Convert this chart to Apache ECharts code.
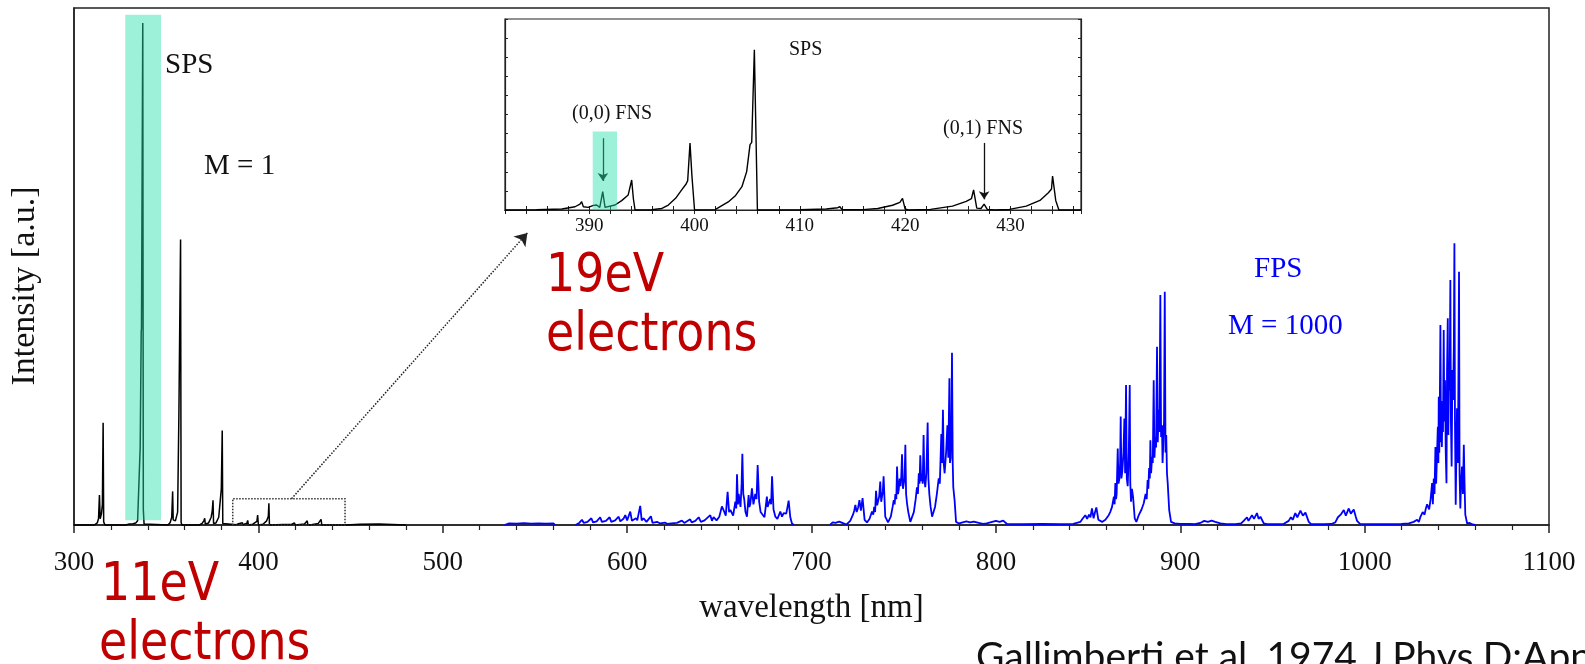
<!DOCTYPE html>
<html>
<head>
<meta charset="utf-8">
<title>SPS / FPS spectrum</title>
<script src="https://cdn.jsdelivr.net/npm/echarts@6.0.0/dist/echarts.min.js"></script>
<style>
  html, body { margin: 0; padding: 0; background: #fff; }
  #chart { width: 1585px; height: 664px; }
</style>
</head>
<body>
<div id="chart"></div>
<script>
// espectro principal, M = 1 (negro)  [nm, intensidad]
var spsMain = [
  [300,0],[311,0],[312.6,0.4],[313.3,1.2],[313.8,5.8],[314.2,1.2],[314.9,2.2],[315.4,4],[315.8,19.8],[316.1,0.6],[316.8,0],
  [328,0],[330,0.2],[332,0.25],[333.5,0.4],[334.5,0.8],[335.9,15],[336.45,37.3],[336.6,38],[337.3,97.1],[337.6,3],[338,0.2],[339,0],
  [351,0],[352.2,0.5],[353,1.5],[353.5,6.5],[353.8,1],[355,0.8],[356.2,2.5],[356.9,21.6],[357.8,55.2],[358.1,0.5],[358.5,0],
  [368,0],[369.5,0.3],[370.4,0.8],[370.9,1.3],[371.2,0.2],[373,0.4],[374.4,1.5],[375,2.8],[375.4,4.8],[375.7,0.3],[377,0.4],[378.5,1.5],[379.9,7],[380.4,18.3],[380.7,0.3],[381.5,0],
  [388,0.05],[389.3,0.25],[389.6,0.05],[391.3,0.45],[391.6,0.05],[393.8,0.35],[394.2,0.9],[394.6,0],[397,0.15],[399.2,0.7],[399.6,1.9],[400,0],[402.5,0.15],[404.5,0.8],[405.4,1.7],[405.7,4.2],[406,0],
  [413.5,0.1],[414,0],[418,0.1],[419.5,0.4],[419.8,0.7],[420.1,0],[425,0.2],[426.5,0.8],[426.8,0.1],[427.5,0.2],[427.9,0],[432.5,0.3],[434,1.1],[434.4,0],
  [446,0],[447,0.25],[447.6,0],[455,0.15],[455.6,0],[465.5,0.2],[466.2,0],[480,0]
];

// espectro FPS, M = 1000 (azul)
var fpsMain = [
  [533.5,0],[536,0.3],[540,0.25],[544,0.35],[548,0.25],[552,0.3],[556,0.25],[560,0.3],[561,0], null,
  [572,0],[574,0.4],[575.5,1],[576.5,0.4],[578.5,0.6],[580.6,1.3],[581.5,0.5],[583.5,0.7],[585.4,1.5],[586.3,0.6],[588.5,0.8],[590.5,1.5],[591.4,0.6],
  [593.5,0.9],[595.4,1.6],[596.3,0.7],[598,1.2],[599,1.9],[600,0.9],[601.7,2.6],[602.6,0.8],[604.8,1.3],[605.5,0.9],[607.1,3.7],[607.9,0.9],[608.9,1.3],
  [610.5,0.6],[612.9,1.7],[613.8,0.4],[616.2,0.6],[618,0.3],[620.7,0.45],[622,0.2],[624,0.3],[627,0.4],[629.7,0.84],[631,0.4],[634.2,1.1],[635,0.5],
  [637,0.8],[638.8,1.5],[640,0.6],[642,0.9],[645.1,1.9],[646,0.8],[646.9,1.5],[648.5,0.9],[650,1.6],[651.4,3.6],[652.3,2.9],[653.5,1.8],[654.5,6.4],
  [655.3,2.5],[656,2.9],[657.5,1.8],[658.7,4.5],[659.2,3.2],[659.6,9.8],[660.1,4],[660.5,6],[661.5,3.5],[662.1,8],[662.5,13.8],[663,6],[663.5,5],[664.2,2.5],
  [665,1.6],[665.9,5.8],[666.3,3.5],[666.8,4],[667.7,7.1],[668.5,4],[669.5,6],[670.2,5],[670.8,11.6],[671.6,4.5],[672.4,2.5],[673.1,2.6],[674.5,1.5],
  [675.8,5.5],[676.2,3.5],[676.7,4],[677.6,5],[678.1,4],[678.6,9.4],[679.4,3],[680.4,1.6],[681.5,1.2],[683.1,2.6],[684,1.6],[684.9,2.3],[686.3,2.2],
  [687,3.5],[687.6,4.7],[688.5,1.5],[689.4,0.3],[690.5,0], null,
  [710,0],[711.5,0.5],[713,0.4],[715,0.65],[717.4,0.3],[719,0.1],[721,0.8],[722.5,2],[723.2,2.8],[723.8,3.9],[724.5,2.5],[725.3,3.4],[726,4.8],[726.8,2.8],
  [727.7,5.2],[728.8,1],[730.1,0.5],[731.5,1.2],[732.8,2.6],[733.5,2],[734,3.5],[734.5,2.5],[735,6.6],[735.6,3.8],[736,3.5],[736.7,5.5],[737.3,8.4],
  [737.8,4.5],[738.2,4.8],[738.7,6.5],[739.1,9.4],[740,1.6],[741.5,0.5],[743,1.6],[744,3.5],[744.6,4.8],[745.1,4],[745.5,6],[746,5],[746.4,11.3],
  [746.9,6],[747.3,6.8],[747.8,9],[748.3,7.5],[748.7,9.5],[749.1,13.7],[749.6,7],[750,6.8],[750.5,9],[750.9,15.5],[751.3,6],[751.8,4.2],[752.5,2.5],
  [753.6,0.6],[755.5,2.5],[756.5,5],[757.2,7.3],[757.7,6],[758.2,10],[758.6,8],[759,13.5],[759.5,8.5],[759.9,9.9],[760.3,8],[760.8,17.4],[761.2,9],
  [761.7,7.3],[762.3,10],[763,19.8],[763.4,9],[763.9,6],[764.6,3.5],[765.4,1.6],[767,3.5],[768,6],[769,9],[769.6,8],[770.4,17.6],[770.8,12],
  [771.3,22.3],[771.7,12],[772.2,10],[773,14],[773.7,19.3],[774.2,13],[774.8,28.4],[775.1,12],[775.5,13],[775.9,20],[776.2,33.3],[776.6,12],
  [776.9,7.3],[777.6,4.8],[778.4,0.6],[780,0.3],[782,0.5],[784,0.7],[786,0.5],[788,0.65],[790.7,0.4],[793,0.2],[795,0.3],
  [798,0.6],[800,0.8],[802,0.6],[804,0.84],[806,0.2],[815,0.15],[825,0.2],[835,0.15],[842,0.2],
  [845.8,0.6],[847,1.2],[848.5,1.9],[849.5,1.2],[850.5,2],[851.3,1.5],[852.1,3.2],[853,1.3],[853.8,2.5],[854.5,3.4],[855.6,1],[857.6,0.6],[859.4,1],
  [861.2,1.9],[862,2.5],[863,3.5],[864,5.5],[864.4,4],[864.8,8.1],[865.2,5],[865.5,6],[866.1,14.8],[866.5,8],[867,9],[867.4,12],[867.7,21],
  [868.1,9],[868.6,10.5],[869.2,14],[869.7,20.6],[870.1,10],[870.6,27.1],[871,9],[871.5,7.5],[872.1,14],[872.6,27.1],[872.9,8],[873.3,4.5],[873.8,7],
  [874.4,5.5],[875.3,1.3],[876.2,0.6],[877.5,1.9],[879,3],[880.2,4.2],[881.2,6],[881.8,5],[882.3,8.7],[882.7,7],[883.1,11],[883.5,9],[883.8,16.4],
  [884.2,10],[884.7,13.2],[885.1,12],[885.6,28],[886,13],[886.5,17],[886.9,15],[887.4,34.5],[887.8,16],[888.3,22.3],[888.7,18],[889.2,44.5],[889.6,17],
  [890.1,19.3],[890.4,12],[890.7,14.8],[891.2,20],[891.6,45.1],[892,14],[892.4,17.4],[892.8,10],[893.2,8.1],[894,2.9],[895,0.6],[897,0.3],[900,0.2],
  [905,0.2],[908,0.15],[910.9,0.4],[913,0.8],[915,0.6],[917,0.84],[919,0.6],[921.8,0.3],[925,0.15],[930,0.15],
  [933,0.3],[934.4,0.8],[936.2,1.5],[937,0.8],[938.9,1.9],[940,1.2],[941.6,2.3],[942.5,1.2],[943.5,1.6],[945.3,0.3],[947,0.15],[953,0.15],
  [956,0.2],[958.8,0.8],[960,1.5],[961,1],[962.4,2.3],[963.5,1.5],[965.2,2.8],[966.5,1.8],[967.9,2.4],[969.7,0.6],[971,0.15],[978,0.15],
  [982,0.2],[984.1,0.5],[985.5,1.5],[987,2],[988.7,2.9],[989.8,1.8],[991.4,3.2],[992.5,2.2],[994.1,3],[995.2,1.6],[995.9,0.8],[997.5,0.2],[1005,0.15],
  [1015,0.15],[1020,0.2],[1024,0.3],[1026.6,0.6],[1028.5,1],[1029.4,0.6],[1030.2,1.5],[1031.5,2.5],[1032.5,2],[1033.2,3.2],[1033.9,4],[1035,3],[1035.8,5],
  [1036.6,8.1],[1037,4],[1037.5,9],[1037.9,6],[1038.4,15.1],[1038.8,8],[1039.2,13],[1039.7,19],[1040,12],[1040.2,24.8],[1040.5,14],[1040.7,20],
  [1041.1,38.7],[1041.4,16],[1041.6,24],[1041.9,15.1],[1042.2,22],[1042.5,18],[1042.9,37.7],[1043.2,20],[1043.6,28],[1044,14],[1044.4,8.1],[1044.7,30],
  [1045.1,40],[1045.4,17.4],[1045.8,30],[1046.1,26],[1046.5,47.4],[1046.8,20],[1047.2,11.3],[1047.6,30],[1048,24.2],[1048.4,35],[1048.7,54.5],
  [1049,20],[1049.4,3.9],[1049.8,15],[1050.1,22.6],[1050.6,12],[1050.9,30],[1051.2,49],[1051.5,10],[1051.9,3.2],[1052.3,8],[1052.8,11.3],[1053.3,6],
  [1053.8,15.5],[1054.2,8],[1054.6,2],[1055.6,0.3],[1057,0.4],[1058.5,0.1],[1060,0]
];

// ampliación 382-437 nm (recuadro)
var spsInset = [
  [382,0],[385,0.1],[387.4,0.5],[388.65,1.7],[389.12,3.1],[389.28,4.4],[389.44,1.7],[389.9,1.4],[390.4,2.4],[390.7,2.6],[391.0,1.4],[391.28,9.6],[391.5,1.4],
  [391.66,1.4],[392.45,2.6],[393.08,4.9],[393.7,7.9],[394.03,15.7],[394.19,6],[394.35,0],
  [395.93,0.1],[396.9,0.8],[397.51,2.6],[398.2,6.1],[398.78,10.5],[399.2,13.6],[399.35,15.4],[399.57,35],[399.75,18],[400.0,0],
  [401.95,0.2],[403.2,4.2],[403.85,7.3],[404.5,12.2],[404.95,20.1],[405.27,34.2],[405.43,35.4],[405.68,83.9],[405.97,0],
  [410,0.1],[412.5,0.5],[413.6,1.2],[413.8,1.7],[414.0,0.3],[416,0.2],[417.4,0.8],[418.8,2.5],[419.5,4],[419.75,6.1],[420.0,0.5],[420.3,0],
  [422.4,0.3],[424.5,2],[425.8,4.5],[426.3,6],[426.5,10.5],[426.8,1],[427.2,0.8],[427.5,3.1],[427.8,0.3],[428.5,0],
  [429.9,0.3],[431.5,2],[432.8,5],[433.6,9],[433.9,11],[434.0,17.8],[434.3,5],[434.6,0],[436.7,0]
];

var serif = '"Liberation Serif", "Times New Roman", serif';

var chart = echarts.init(document.getElementById('chart'));

function texto(txt, x, y, size, color, extra) {
  var el = {
    type: 'text', x: x, y: y, z: 100,
    style: { text: txt, fill: color, font: size + 'px ' + serif, verticalAlign: 'middle', textAlign: 'left' }
  };
  if (extra) { for (var k in extra) { el.style[k] = extra[k]; } }
  return el;
}

function rojo(txt, x, y) {
  return {
    type: 'text', x: x, y: y, z: 100, scaleX: 0.85,
    style: { text: txt, fill: '#c00000', font: '54px "DejaVu Sans", sans-serif', verticalAlign: 'middle' }
  };
}

var verde = 'rgba(40,225,170,0.45)';

var option = {
  backgroundColor: '#fff',
  animation: false,
  grid: [
    { left: 74, right: 36, top: 8, bottom: 139, show: true, borderColor: '#222', borderWidth: 1.5 },
    { left: 505, top: 19, width: 576, height: 191, show: true, backgroundColor: '#fff', borderColor: '#222', borderWidth: 1.2 }
  ],
  xAxis: [
    {
      gridIndex: 0, type: 'value', min: 300, max: 1100, interval: 100,
      axisLine: { lineStyle: { color: '#222', width: 1.5 } },
      axisTick: { inside: false, length: 8, lineStyle: { color: '#222', width: 1.5 } },
      minorTick: { show: true, splitNumber: 5, length: 5, lineStyle: { color: '#222', width: 1.2 } },
      splitLine: { show: false },
      axisLabel: { fontFamily: serif, fontSize: 27, color: '#111', margin: 24, formatter: function (v) { return String(v); } },
      name: 'wavelength [nm]', nameLocation: 'middle', nameGap: 67,
      nameTextStyle: { fontFamily: serif, fontSize: 33, color: '#111' }
    },
    {
      gridIndex: 1, type: 'value', min: 382, max: 436.7, interval: 2,
      axisLine: { lineStyle: { color: '#222', width: 1.2 } },
      axisTick: { inside: true, length: 4, lineStyle: { color: '#222' } },
      splitLine: { show: false },
      axisLabel: {
        fontFamily: serif, fontSize: 19, color: '#111', margin: 7,
        formatter: function (v) { return v % 10 === 0 ? String(v) : ''; }
      }
    },
    {
      gridIndex: 1, type: 'value', min: 382, max: 436.7, interval: 2, position: 'top',
      axisLine: { lineStyle: { color: '#222', width: 1.2 } },
      axisTick: { inside: true, length: 4, lineStyle: { color: '#222' } },
      splitLine: { show: false }, axisLabel: { show: false }
    }
  ],
  yAxis: [
    {
      gridIndex: 0, type: 'value', min: 0, max: 100,
      axisLine: { show: true, lineStyle: { color: '#222', width: 1.5 } },
      axisTick: { show: false }, axisLabel: { show: false }, splitLine: { show: false }
    },
    {
      gridIndex: 1, type: 'value', min: 0, max: 100, interval: 10,
      axisLine: { show: true, lineStyle: { color: '#222', width: 1.2 } },
      axisTick: { inside: true, length: 3, lineStyle: { color: '#222' } },
      axisLabel: { show: false }, splitLine: { show: false }
    },
    {
      gridIndex: 1, type: 'value', min: 0, max: 100, interval: 10, position: 'right',
      axisLine: { show: true, lineStyle: { color: '#222', width: 1.2 } },
      axisTick: { inside: true, length: 3, lineStyle: { color: '#222' } },
      axisLabel: { show: false }, splitLine: { show: false }
    }
  ],
  series: [
    {
      name: 'M = 1', type: 'line', xAxisIndex: 0, yAxisIndex: 0, data: spsMain, clip: false,
      showSymbol: false, symbol: 'none', lineStyle: { color: '#000', width: 1.5 }, itemStyle: { color: '#222' }, z: 3,
      markLine: {
        silent: true, symbol: ['none', 'arrow'], symbolSize: 12, label: { show: false },
        itemStyle: { color: '#222' },
        lineStyle: { color: '#222', width: 1.5, type: 'dotted' },
        data: [[{ coord: [418, 5.1] }, { coord: [545.9, 56.5] }]]
      }
    },
    {
      name: 'M = 1000', type: 'line', xAxisIndex: 0, yAxisIndex: 0, data: fpsMain,
      showSymbol: false, symbol: 'none', connectNulls: false, lineStyle: { color: '#0000ff', width: 1.8 }, z: 2
    },
    {
      name: 'inset', type: 'line', xAxisIndex: 1, yAxisIndex: 1, data: spsInset, clip: false,
      showSymbol: false, symbol: 'none', lineStyle: { color: '#000', width: 1.4 }, itemStyle: { color: '#111' }, z: 3,
      markLine: {
        silent: true, symbol: ['none', 'arrow'], symbolSize: 8, label: { show: false },
        itemStyle: { color: '#111' },
        lineStyle: { color: '#111', width: 1.3, type: 'solid' },
        data: [
          [{ coord: [391.3, 37.6] }, { coord: [391.3, 15.2] }],
          [{ coord: [427.5, 35.1] }, { coord: [427.5, 5.6] }]
        ]
      }
    },
    {
      // recuadros del gráfico principal
      name: 'marcas', type: 'line', xAxisIndex: 0, yAxisIndex: 0, data: [], clip: false, z: 6,
      markArea: {
        silent: true, z: 6, label: { show: false },
        data: [
          [{ coord: [327.8, 0.9], itemStyle: { color: verde } }, { coord: [347.2, 98.7] }],
          [{ coord: [386.1, -3.6], itemStyle: { color: 'rgba(0,0,0,0)', borderColor: '#333', borderWidth: 1.5, borderType: 'dotted' } }, { coord: [447, 5.1] }]
        ]
      }
    },
    {
      // recuadro verde del inset
      name: 'marcasInset', type: 'line', xAxisIndex: 1, yAxisIndex: 1, data: [], clip: false, z: 6,
      markArea: {
        silent: true, z: 7, label: { show: false },
        data: [[{ coord: [390.33, 0], itemStyle: { color: verde } }, { coord: [392.64, 41.1] }]]
      }
    }
  ],
  graphic: [
    {
      type: 'text', x: 25, y: 286, rotation: Math.PI / 2, z: 100,
      style: { text: 'Intensity [a.u.]', fill: '#111', font: '34px ' + serif, textAlign: 'center', verticalAlign: 'middle' }
    },
    texto('SPS', 165, 65, 29, '#111'),
    texto('M = 1', 204, 166, 29, '#111'),
    texto('FPS', 1254, 269, 29, '#0000ff'),
    texto('M = 1000', 1228, 326, 29, '#0000ff'),
    texto('SPS', 789, 50, 20, '#111'),
    texto('(0,0) FNS', 612, 114, 20, '#111', { textAlign: 'center' }),
    texto('(0,1) FNS', 983, 129, 20, '#111', { textAlign: 'center' }),
    rojo('19eV', 546, 277),
    rojo('electrons', 546, 336),
    rojo('11eV', 101, 586),
    rojo('electrons', 99, 645),
    {
      type: 'text', x: 976, y: 657, z: 100,
      style: { text: 'Gallimberti et al. 1974 J.Phys.D:Appl.Phys.', fill: '#111', font: '39px Lato, "Liberation Sans", sans-serif', verticalAlign: 'middle' }
    }
  ]
};

chart.setOption(option);
</script>
</body>
</html>
